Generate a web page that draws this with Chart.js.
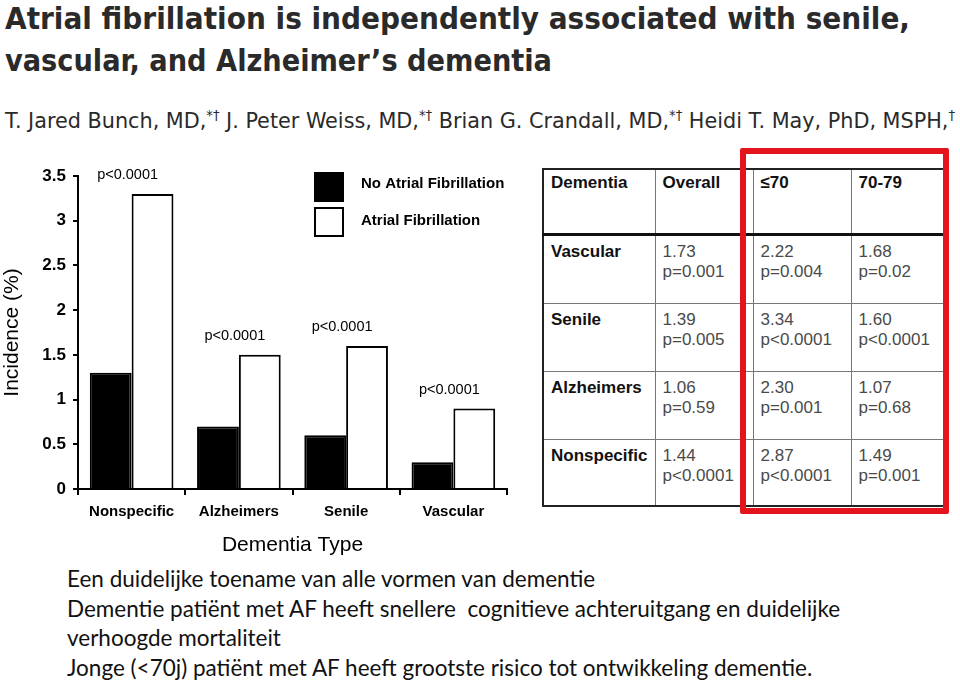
<!DOCTYPE html>
<html>
<head>
<meta charset="utf-8">
<script src="https://cdn.jsdelivr.net/npm/chart.js@4.4.1/dist/chart.umd.min.js"></script>
<style>
  body { margin: 0; background: #fff; width: 960px; height: 683px; overflow: hidden; position: relative; }
  .fit { position: absolute; white-space: nowrap; transform-origin: 0 0; }
  .head { font-family: "Liberation Sans Narrow", "DejaVu Sans Condensed", sans-serif; font-weight: bold; font-size: 31px; color: #2a2a2a; }
  #authors { font-family: "Liberation Sans Narrow", "DejaVu Sans Condensed", sans-serif; font-size: 22px; color: #2a2a2a; }
  #authors sup { font-size: 14px; }
  #tbl { position: absolute; left: 542px; top: 168px; border-collapse: collapse; table-layout: fixed;
         font-family: "Liberation Sans", Arial, sans-serif; }
  #tbl td, #tbl th { border: 1px solid #777; vertical-align: top; text-align: left; padding: 6px 0 0 7px; }
  #tbl th { font-weight: bold; font-size: 17px; color: #111; border-bottom: 3px solid #111; padding-top: 3px; }
  #tbl td { font-size: 17px; color: #4a4a4a; line-height: 20px; }
  #tbl td.lab { font-weight: bold; color: #111; }
  #redbox { position: absolute; left: 740px; top: 148px; width: 197px; height: 354px; border: 6px solid #e3141b; border-radius: 2px; }
  #notes { position: absolute; left: 67px; top: 564px; font-family: Lato, "Open Sans", sans-serif; font-size: 22.5px; line-height: 29.5px; color: #111; }
</style>
</head>
<body>
<div class="fit head" style="left:5px;top:0px;" data-w="905">Atrial fibrillation is independently associated with senile,</div>
<div class="fit head" style="left:5px;top:42px;" data-w="547">vascular, and Alzheimer’s dementia</div>
<div id="authors" class="fit" style="left:5px;top:107px;" data-w="950">T. Jared Bunch, MD,<sup>*†</sup> J. Peter Weiss, MD,<sup>*†</sup> Brian G. Crandall, MD,<sup>*†</sup> Heidi T. May, PhD, MSPH,<sup>†</sup></div>

<canvas id="chart" width="540" height="410" style="position:absolute;left:0;top:150px;"></canvas>

<table id="tbl"></table>
<div id="redbox"></div>

<div id="notes">
Een duidelijke toename van alle vormen van dementie<br>
Dementie patiënt met AF heeft snellere&nbsp; cognitieve achteruitgang en duidelijke<br>
verhoogde mortaliteit<br>
Jonge (&lt;70j) patiënt met AF heeft grootste risico tot ontwikkeling dementie.
</div>

<script>
// chart data
const categories = ['Nonspecific', 'Alzheimers', 'Senile', 'Vascular'];
const noAF = [1.3, 0.7, 0.6, 0.3];
const withAF = [3.3, 1.5, 1.6, 0.9];
const pLabels = ['p<0.0001', 'p<0.0001', 'p<0.0001', 'p<0.0001'];
const yTicks = [0, 0.5, 1, 1.5, 2, 2.5, 3, 3.5];

// table data
const tableHead = ['Dementia', 'Overall', '≤70', '70-79'];
const tableRows = ['Vascular', 'Senile', 'Alzheimers', 'Nonspecific'];
const tableOverall = [['1.73', 'p=0.001'], ['1.39', 'p=0.005'], ['1.06', 'p=0.59'], ['1.44', 'p<0.0001']];
const tableUnder70 = [['2.22', 'p=0.004'], ['3.34', 'p<0.0001'], ['2.30', 'p=0.001'], ['2.87', 'p<0.0001']];
const table7079 = [['1.68', 'p=0.02'], ['1.60', 'p<0.0001'], ['1.07', 'p=0.68'], ['1.49', 'p=0.001']];

// stretch title lines to their width
document.querySelectorAll('.fit').forEach(el => {
  let w = el.getBoundingClientRect().width;
  el.style.transform = 'scaleX(' + (el.dataset.w / w) + ')';
});

// build table
let tbl = document.getElementById('tbl');
let colW = [112, 98, 98, 92];
let rowH = [65, 69, 68, 68, 67];
let cg = document.createElement('colgroup');
colW.forEach(w => { let c = document.createElement('col'); c.style.width = w + 'px'; cg.appendChild(c); });
tbl.appendChild(cg);
let hr = document.createElement('tr');
hr.style.height = rowH[0] + 'px';
tableHead.forEach(h => { let th = document.createElement('th'); th.textContent = h; hr.appendChild(th); });
tbl.appendChild(hr);
tableRows.forEach((r, i) => {
  let tr = document.createElement('tr');
  tr.style.height = rowH[i + 1] + 'px';
  let td = document.createElement('td');
  td.className = 'lab';
  td.textContent = r;
  tr.appendChild(td);
  [tableOverall, tableUnder70, table7079].forEach(col => {
    let c = document.createElement('td');
    c.innerHTML = col[i][0] + '<br>' + col[i][1].replace('<', '&lt;');
    tr.appendChild(c);
  });
  tbl.appendChild(tr);
});
tbl.style.width = colW.reduce((a, b) => a + b, 0) + 'px';
tbl.style.border = '2px solid #222';
tbl.style.borderRight = 'none';

const pValuePlugin = {
  id: 'pvalues',
  afterDatasetsDraw(chart) {
    let ctx = chart.ctx;
    let xs = chart.scales.x, ys = chart.scales.y;
    ctx.save();
    ctx.fillStyle = '#000';
    ctx.font = '14.5px "Liberation Sans", Arial, sans-serif';
    ctx.textAlign = 'center';
    ctx.textBaseline = 'middle';
    pLabels.forEach((p, i) => {
      let top = ys.getPixelForValue(Math.max(noAF[i], withAF[i]));
      ctx.fillText(p, xs.getPixelForValue(i) - 4, top - 19);
    });
    ctx.restore();
  }
};

const legendPlugin = {
  id: 'boxlegend',
  afterDraw(chart) {
    let ctx = chart.ctx;
    ctx.save();
    chart.data.datasets.forEach((ds, i) => {
      let y = 22 + i * 35;
      ctx.fillStyle = ds.backgroundColor;
      ctx.fillRect(314, y, 30, 30);
      ctx.strokeStyle = '#000';
      ctx.lineWidth = 2;
      ctx.strokeRect(315, y + 1, 28, 28);
      ctx.fillStyle = '#000';
      ctx.font = 'bold 15px "Liberation Sans", Arial, sans-serif';
      ctx.textBaseline = 'middle';
      ctx.fillText(ds.label, 361, y + 12 + i * 2);
    });
    ctx.restore();
  }
};

new Chart(document.getElementById('chart'), {
  type: 'bar',
  data: {
    labels: categories,
    datasets: [
      { label: 'No Atrial Fibrillation', data: noAF, backgroundColor: '#000', borderColor: '#000', borderWidth: 2 },
      { label: 'Atrial Fibrillation', data: withAF, backgroundColor: '#fff', borderColor: '#000', borderWidth: 2 }
    ]
  },
  options: {
    responsive: false,
    animation: false,
    categoryPercentage: 0.78,
    barPercentage: 1.0,
    layout: { padding: { top: 26, right: 33, left: 0, bottom: 0 } },
    plugins: { legend: { display: false }, tooltip: { enabled: false } },
    scales: {
      x: {
        grid: { drawOnChartArea: false, tickLength: 6, color: '#000', lineWidth: 2, offset: true },
        border: { color: '#000', width: 2 },
        ticks: { color: '#000', padding: 8, font: { family: '"Liberation Sans", Arial, sans-serif', size: 15, weight: 'bold' } },
        title: { display: true, text: 'Dementia Type', color: '#000', padding: { top: 2, bottom: 2 },
                 font: { family: '"Liberation Sans", Arial, sans-serif', size: 21 } },
        afterFit(s) { s.height = 71; }
      },
      y: {
        min: 0,
        max: 3.5,
        afterBuildTicks(s) { s.ticks = yTicks.map(v => ({ value: v })); },
        grid: { drawOnChartArea: false, tickLength: 5, color: '#000', lineWidth: 2 },
        border: { color: '#000', width: 2 },
        ticks: { color: '#000', padding: 7, callback: v => String(v),
                 font: { family: '"Liberation Sans", Arial, sans-serif', size: 17, weight: 'bold' } },
        title: { display: true, text: 'Incidence (%)', color: '#000', padding: 0,
                 font: { family: '"Liberation Sans", Arial, sans-serif', size: 21 } },
        afterFit(s) { s.width = 78; }
      }
    }
  },
  plugins: [pValuePlugin, legendPlugin]
});
</script>
</body>
</html>
